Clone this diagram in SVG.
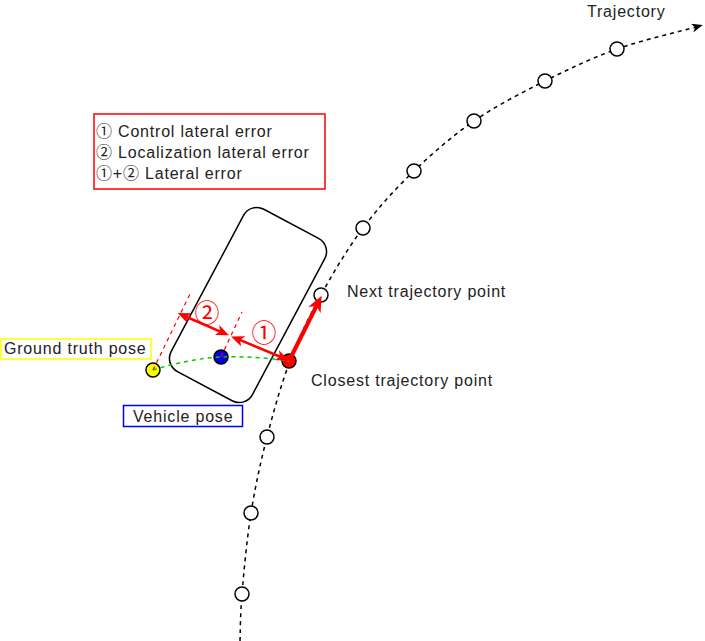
<svg xmlns="http://www.w3.org/2000/svg" width="705" height="641" viewBox="0 0 705 641">
  <style>
    .txt { font-family: "Liberation Sans", "Noto Sans CJK SC", sans-serif; font-size: 16px; fill: #222; letter-spacing: 0.8px; }
    .num { font-family: "Liberation Sans", "Noto Sans CJK SC", sans-serif; font-size: 25px; fill: #ff0000; text-anchor: middle; }
    .tp { fill: #ffffff; stroke: #000000; stroke-width: 1.5; }
    .traj { fill: none; stroke: #000000; stroke-width: 1.5; stroke-dasharray: 4 4; }
    .gdash { fill: none; stroke: #00cc00; stroke-width: 1.5; stroke-dasharray: 4 4; }
    .rdash { fill: none; stroke: #ff0000; stroke-width: 1.2; stroke-dasharray: 4 4; }
    .rarrow { fill: none; stroke: #ff0000; stroke-width: 2.5; marker-start: url(#redhead); marker-end: url(#redhead); }
  </style>
  <defs>
    <marker id="redhead" viewBox="0 0 12 10" refX="4" refY="5" markerWidth="13" markerHeight="11" markerUnits="userSpaceOnUse" orient="auto-start-reverse">
      <path d="M0,0 L12,5 L0,10 L3,5 Z" fill="#ff0000"/>
    </marker>
    <marker id="bigred" viewBox="0 0 14 12" refX="5" refY="6" markerWidth="16" markerHeight="14" markerUnits="userSpaceOnUse" orient="auto">
      <path d="M0,0 L14,6 L0,12 L4,6 Z" fill="#ff0000"/>
    </marker>
    <marker id="blackhead" viewBox="0 0 11 9" refX="4" refY="4.5" markerWidth="11" markerHeight="9" markerUnits="userSpaceOnUse" orient="auto">
      <path d="M0,0 L11,4.5 L0,9 L3,4.5 Z" fill="#000000"/>
    </marker>
  </defs>

  <g id="connectors">
    <path id="trajectory-line" class="traj" marker-end="url(#blackhead)" d="M240,641 C240.3,633.2 240.2,615.3 242,594 C243.8,572.7 246.8,539.2 251,513 C255.2,486.8 260.5,462.3 267,437 C273.5,411.7 281,384.7 290,361 C299,337.3 308.8,317.2 321,295 C333.2,272.8 347.5,248.7 363,228 C378.5,207.3 395.5,188.8 414,171 C432.5,153.2 452.2,136 474,121 C495.8,106 521.2,93 545,81 C568.8,69 591.2,58.3 617,49 C642.2,40 682.8,30.7 696,27"/>
  </g>

  <g id="trajectory-points">
    <circle class="tp" cx="617" cy="49" r="7"/>
    <circle class="tp" cx="545" cy="81" r="7"/>
    <circle class="tp" cx="474" cy="121" r="7"/>
    <circle class="tp" cx="414" cy="171" r="7"/>
    <circle class="tp" cx="363" cy="228" r="7"/>
    <circle id="next-point" class="tp" cx="321" cy="295" r="7"/>
    <circle class="tp" cx="267" cy="437" r="7"/>
    <circle class="tp" cx="251" cy="513" r="7"/>
    <circle class="tp" cx="242" cy="594" r="7"/>
  </g>

  <g id="vehicle">
    <rect x="-46" y="-92" width="92" height="184" rx="15" ry="15" transform="translate(248,305) rotate(28)" fill="none" stroke="#000000" stroke-width="1.5"/>
  </g>

  <g id="ground-truth-point">
    <circle cx="153" cy="370" r="7" fill="#ffff00" stroke="#000000" stroke-width="1.5"/>
  </g>
  <g id="vehicle-point">
    <circle cx="221" cy="357" r="7" fill="#0000ee" stroke="#000000" stroke-width="1.5"/>
  </g>
  <g id="closest-point">
    <circle cx="289" cy="361" r="7" fill="#ff0000" stroke="#000000" stroke-width="1.5"/>
  </g>

  <g id="error-connectors">
    <path class="gdash" d="M153,370 C175,363 200,358 221,357 S270,358 289,361"/>
    <line class="rdash" x1="153" y1="370" x2="190" y2="294"/>
    <line class="rdash" x1="221" y1="357" x2="242" y2="312"/>
    <line class="rarrow" x1="185.6" y1="316.5" x2="221" y2="331.8"/>
    <line class="rarrow" x1="239.1" y1="339.7" x2="280.9" y2="357"/>
    <line x1="289" y1="361" x2="317" y2="305" stroke="#ff0000" stroke-width="4" marker-end="url(#bigred)"/>
  </g>

  <g id="error-labels">
    <text class="num" x="207" y="322">②</text>
    <text class="num" x="264" y="342">①</text>
  </g>

  <g id="label-trajectory">
    <text class="txt" x="587" y="17">Trajectory</text>
  </g>
  <g id="label-next">
    <text class="txt" x="347" y="297">Next trajectory point</text>
  </g>
  <g id="label-closest">
    <text class="txt" x="311" y="386">Closest trajectory point</text>
  </g>

  <g id="ground-truth-pose">
    <rect x="1" y="339" width="150" height="20" fill="#ffffff" stroke="#ffff00" stroke-width="1.5"/>
    <text class="txt" x="4" y="354">Ground truth pose</text>
  </g>
  <g id="vehicle-pose">
    <rect x="123.5" y="405.5" width="119" height="21" fill="#ffffff" stroke="#0000ff" stroke-width="1.5"/>
    <text class="txt" x="133" y="422">Vehicle pose</text>
  </g>

  <g id="legend">
    <rect x="94" y="114" width="231" height="75" fill="#ffffff" stroke="#ff0000" stroke-width="1.5"/>
    <text class="txt" x="96" y="137">① Control lateral error</text>
    <text class="txt" x="96" y="158">② Localization lateral error</text>
    <text class="txt" x="96" y="179">①+② Lateral error</text>
  </g>
</svg>
